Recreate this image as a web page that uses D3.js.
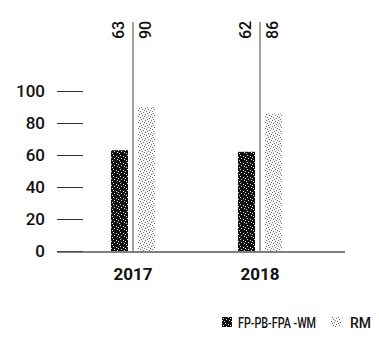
<!DOCTYPE html>
<html><head><meta charset="utf-8">
<script src="https://cdn.jsdelivr.net/npm/d3@7"></script>
<style>
html,body{margin:0;padding:0;background:#fff;}
text{font-family:Roboto,"Liberation Sans",sans-serif;fill:#111;}
</style></head>
<body>
<svg id="c" width="379" height="344"></svg>
<script>
const years = ["2017", "2018"];
const series = ["FP-PB-FPA -WM", "RM"];
const fpValues = [63, 62];
const rmValues = [90, 86];
const yTicks = [0, 20, 40, 60, 80, 100];

const svg = d3.select("#c");
const defs = svg.append("defs");

// dark stipple pattern
const pd = defs.append("pattern").attr("id","dark").attr("patternUnits","userSpaceOnUse")
  .attr("width",7).attr("height",7);
pd.append("rect").attr("width",7).attr("height",7).attr("fill","#111");
[[1,1],[4,2],[2,4],[5,5],[0,6],[6,3]].forEach(p=>pd.append("rect").attr("x",p[0]).attr("y",p[1]).attr("width",1).attr("height",1).attr("fill","#ddd"));

// light stipple pattern
const pl = defs.append("pattern").attr("id","light").attr("patternUnits","userSpaceOnUse")
  .attr("width",6).attr("height",6);
pl.append("rect").attr("width",6).attr("height",6).attr("fill","#f6f6f6");
[[0,0],[3,1],[1,3],[4,4],[5,2],[2,5]].forEach(p=>pl.append("rect").attr("x",p[0]).attr("y",p[1]).attr("width",1).attr("height",1).attr("fill","#777"));

const y = d3.scaleLinear().domain([0,100]).range([251,91]);
const x = d3.scalePoint().domain(years).range([133,260]);
const xi = d3.scaleBand().domain(series).range([-22,22]).paddingInner(0.37);

// y axis
const ax = svg.append("g").attr("transform","translate(83,0)")
  .call(d3.axisLeft(y).tickValues(yTicks).tickSize(26).tickPadding(12));
ax.select(".domain").remove();
ax.selectAll(".tick line").attr("stroke","#333").attr("stroke-width",1);
ax.selectAll(".tick text").style("font-family","Roboto, sans-serif").style("font-size","17px").style("font-weight","500").attr("fill","#111");

// baseline
svg.append("line").attr("x1",57).attr("x2",345).attr("y1",y(0)+1).attr("y2",y(0)+1)
  .attr("stroke","#555").attr("stroke-width",1.3);

const data = years.map((yr,i)=>({year:yr, vals:[fpValues[i], rmValues[i]]}));

const g = svg.append("g").selectAll("g").data(data).join("g")
  .attr("transform",d=>`translate(${x(d.year)},0)`);

g.selectAll("rect").data(d=>d.vals.map((v,j)=>({s:series[j],v}))).join("rect")
  .attr("x",d=>xi(d.s)).attr("width",xi.bandwidth())
  .attr("y",d=>y(d.v)).attr("height",d=>y(0)-y(d.v))
  .attr("fill",(d,j)=>j===0?"url(#dark)":"url(#light)");

// separators
g.append("line").attr("x1",0).attr("x2",0).attr("y1",22).attr("y2",y(0))
  .attr("stroke","#444").attr("stroke-width",1);

// value labels rotated
g.selectAll("text.val").data(d=>d.vals.map((v,j)=>({s:series[j],v}))).join("text")
  .attr("class","val")
  .attr("transform",d=>`translate(${xi(d.s)+xi.bandwidth()/2-1},39) rotate(-90)`)
  .attr("dy","0.35em")
  .attr("text-anchor","start")
  .style("font-size","16px").style("font-weight","500")
  .text(d=>d.v);

// year labels
g.append("text").attr("y",280).attr("text-anchor","middle")
  .style("font-size","17px").style("font-weight","bold")
  .text(d=>d.year);

// legend
const leg = svg.append("g");
const legX = [222, 331];
const legW = [78, 21];
series.forEach((s,j)=>{
  leg.append("rect").attr("x",legX[j]).attr("y",317).attr("width",10).attr("height",10)
    .attr("fill", j===0?"url(#dark)":"url(#light)");
  leg.append("text").attr("x",legX[j]+(j===0?16:19)).attr("y",328)
    .attr("textLength",legW[j]).attr("lengthAdjust","spacingAndGlyphs")
    .style("font-size","15px").style("font-weight","500").text(s);
});
</script>
</body></html>
